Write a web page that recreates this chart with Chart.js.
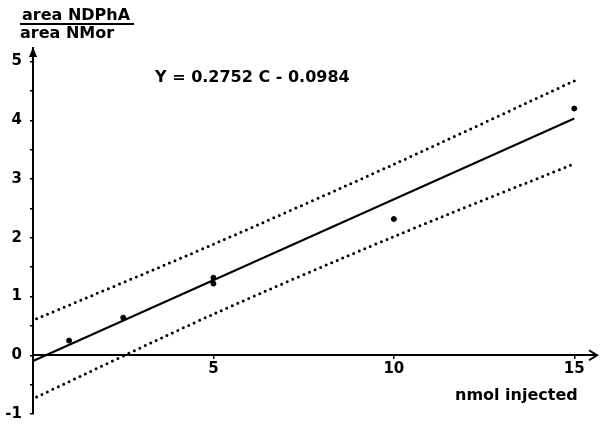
<!DOCTYPE html>
<html>
<head>
<meta charset="utf-8">
<script src="https://cdn.jsdelivr.net/npm/chart.js@4"></script>
<style>
html, body { margin: 0; padding: 0; background: #fff; }
</style>
</head>
<body>
<canvas id="calChart" width="602" height="431"></canvas>
<script>
// measured points (nmol injected vs area ratio)
const pointX = [1, 2.5, 5, 5, 10, 15];
const pointY = [0.25, 0.64, 1.22, 1.32, 2.32, 4.2];
// regression line Y = 0.2752 C - 0.0984
const fitX = [0, 15];
const fitY = [-0.098, 4.03];
// dotted band lines
const bandX = [0.1, 5, 10, 15];
const upperY = [0.62, 1.89, 3.25, 4.67];
const lowerY = [-0.71, 0.70, 2.02, 3.26];
// ticks
const xTicks = [5, 10, 15];
const yTicks = [-1, -0.5, 0, 0.5, 1, 1.5, 2, 2.5, 3, 3.5, 4, 4.5, 5];

const pairs = (xs, ys) => xs.map((x, i) => ({ x: x, y: ys[i] }));
const font = { family: 'DejaVu Sans', size: 15, weight: 'bold' };

// axis arrows + free texts
const extras = {
  id: 'extras',
  afterDraw(chart) {
    const ctx = chart.ctx;
    const xs = chart.scales.x, ys = chart.scales.y;
    const x0 = xs.getPixelForValue(0), y0 = ys.getPixelForValue(0);
    const top = chart.chartArea.top, right = chart.chartArea.right;
    ctx.save();
    ctx.strokeStyle = '#000';
    ctx.fillStyle = '#000';
    ctx.lineWidth = 2;
    // y arrow
    ctx.beginPath();
    ctx.moveTo(x0 - 4, top + 9);
    ctx.lineTo(x0, top - 1);
    ctx.lineTo(x0 + 4, top + 9);
    ctx.closePath();
    ctx.fill();
    // x arrow
    ctx.beginPath();
    ctx.moveTo(right - 8, y0 - 5);
    ctx.lineTo(right, y0);
    ctx.lineTo(right - 8, y0 + 5);
    ctx.stroke();

    ctx.font = 'bold 16px "DejaVu Sans"';
    ctx.textBaseline = 'alphabetic';
    ctx.textAlign = 'left';
    ctx.fillText('area NDPhA', 22, 20);
    ctx.fillText('area NMor', 20, 38);
    ctx.beginPath();
    ctx.moveTo(20, 24);
    ctx.lineTo(134, 24);
    ctx.stroke();
    ctx.fillText('Y = 0.2752 C - 0.0984', 155, 82);
    ctx.fillText('nmol injected', 455, 400);
    ctx.restore();
  }
};

new Chart(document.getElementById('calChart'), {
  type: 'scatter',
  data: {
    datasets: [
      {
        data: pairs(pointX, pointY),
        backgroundColor: '#000',
        borderColor: '#000',
        pointRadius: 2.5,
        showLine: false
      },
      {
        data: pairs(fitX, fitY),
        showLine: true,
        borderColor: '#000',
        borderWidth: 2,
        pointRadius: 0
      },
      {
        data: pairs(bandX, upperY),
        showLine: true,
        borderColor: '#000',
        borderWidth: 3,
        borderDash: [0, 6],
        borderCapStyle: 'round',
        tension: 0.3,
        pointRadius: 0
      },
      {
        data: pairs(bandX, lowerY),
        showLine: true,
        borderColor: '#000',
        borderWidth: 3,
        borderDash: [0, 6],
        borderCapStyle: 'round',
        tension: 0.3,
        pointRadius: 0
      }
    ]
  },
  options: {
    responsive: false,
    animation: false,
    devicePixelRatio: 1,
    clip: false,
    layout: { padding: { top: 48, right: 2, bottom: 7, left: 0 } },
    plugins: {
      legend: { display: false },
      tooltip: { enabled: false }
    },
    scales: {
      x: {
        type: 'linear',
        min: 0,
        max: 15.63,
        position: { y: 0 },
        afterBuildTicks: s => { s.ticks = xTicks.map(v => ({ value: v })); },
        afterFit: s => { s.height = 0; },
        grid: { drawOnChartArea: false, drawTicks: true, tickLength: 3, color: '#000', lineWidth: 1.5 },
        border: { display: true, color: '#000', width: 2 },
        ticks: { color: '#000', font: font, padding: 2, maxRotation: 0, autoSkip: false }
      },
      y: {
        type: 'linear',
        min: -1,
        max: 5.23,
        position: 'left',
        afterBuildTicks: s => { s.ticks = yTicks.map(v => ({ value: v })); },
        afterFit: s => { s.width = 33; },
        grid: { drawOnChartArea: false, drawTicks: true, tickLength: 3, color: '#000', lineWidth: 1.5 },
        border: { display: true, color: '#000', width: 2 },
        ticks: {
          color: '#000', font: font, padding: 8, autoSkip: false,
          callback: v => Number.isInteger(v) ? String(v) : ''
        }
      }
    }
  },
  plugins: [extras]
});
</script>
</body>
</html>
